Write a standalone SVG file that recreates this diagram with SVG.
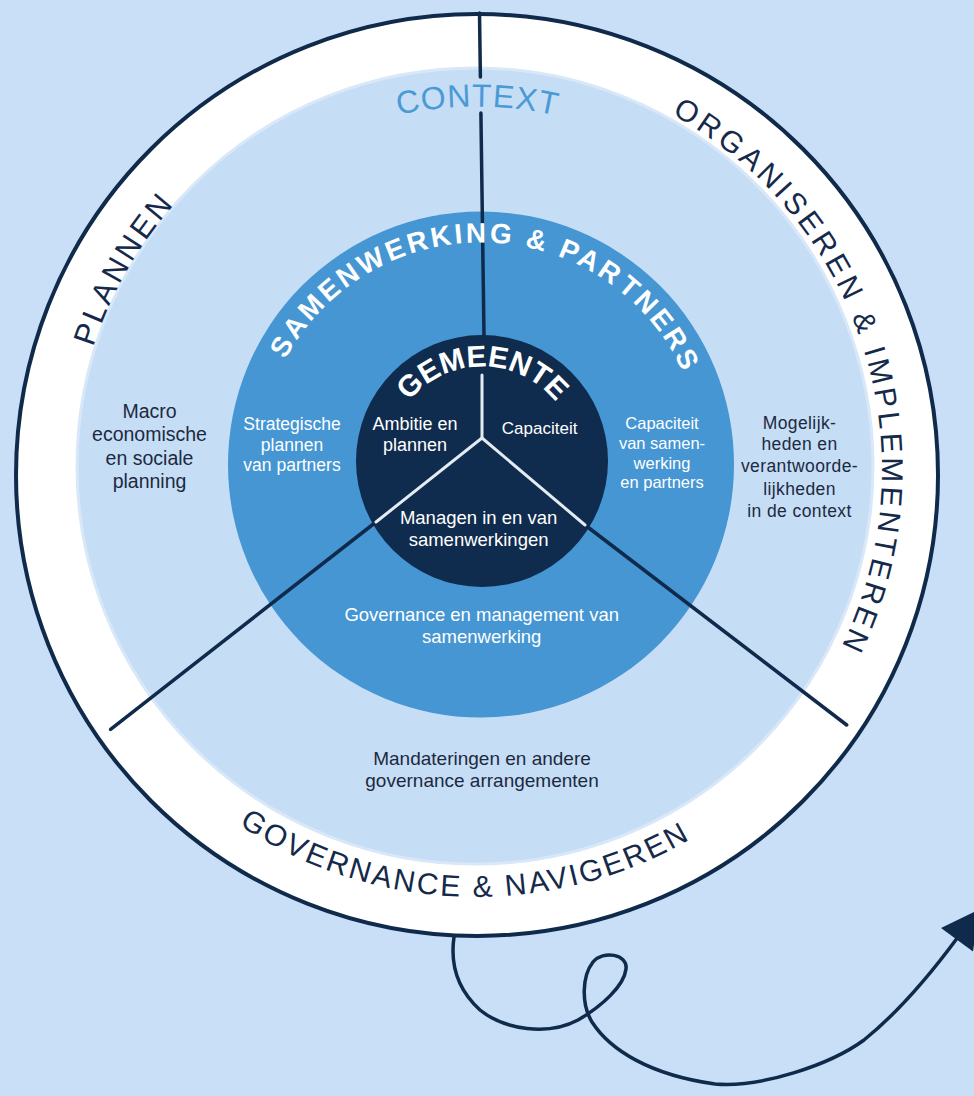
<svg xmlns="http://www.w3.org/2000/svg" width="974" height="1096" viewBox="0 0 974 1096">
  <style>
    .hand { font-family: "Liberation Sans", "DejaVu Sans", sans-serif; }
    .hdark { fill: #15294a; font-size: 31px; }
    .horg { fill: #15294a; font-size: 30px; letter-spacing: 3.8px; }
    .hsam { fill: #ffffff; font-weight: bold; font-size: 28px; letter-spacing: 3px; }
    .hwhite { fill: #ffffff; font-weight: bold; }
    .body { font-family: "Liberation Sans", Arial, sans-serif; text-anchor: middle; }
    .dk { fill: #1c2a40; }
    .wt { fill: #ffffff; }
    .navy { stroke: #0f2a4b; fill: none; stroke-linecap: round; }
    .wline { stroke: #e4ebf3; stroke-width: 3; fill: none; stroke-linecap: round; }
  </style>
  <defs>
    <path id="arcPlannen" d="M128.9 672.8 A402 402 0 0 1 473.9 68"/>
    <path id="arcOrg" d="M423 67.5 A406 406 0 0 1 663.5 830.1"/>
    <path id="arcGov" d="M53.5 531.7 A427 427 0 0 0 894.1 556.6"/>
    <path id="arcContext" d="M135 344.2 A363.5 363.5 0 0 1 818.1 347.2"/>
    <path id="arcSam" d="M263.8 418.3 A222 222 0 0 1 700.8 433.6"/>
    <path id="arcGem" d="M389.1 443.9 A94.5 94.5 0 0 1 575.2 445.2"/>
  </defs>

  <rect x="0" y="0" width="974" height="1096" fill="#c8dff7"/>

  <g id="outer-ring">
    <circle cx="477" cy="475" r="461" fill="#ffffff" stroke="#0f2a4b" stroke-width="4"/>
  </g>

  <g id="context">
    <circle cx="475" cy="466" r="398" fill="#c6ddf6" stroke="#d9e8f8" stroke-width="3"/>
  </g>

  <g id="samenwerking">
    <circle cx="481" cy="464.5" r="253" fill="#4596d3"/>
  </g>

  <g id="gemeente">
    <circle cx="482" cy="461" r="126" fill="#0f2b4d"/>
  </g>

  <g id="connectors">
    <line class="navy" stroke-width="3.5" x1="479.5" y1="13" x2="480.4" y2="77"/>
    <line class="navy" stroke-width="3.5" x1="480.9" y1="113" x2="484" y2="336"/>
    <line class="navy" stroke-width="3.5" x1="376" y1="522" x2="110.6" y2="729.4"/>
    <line class="navy" stroke-width="3.5" x1="585" y1="525" x2="846.7" y2="725"/>
    <polyline class="wline" points="482,375 482,438 376,522"/>
    <line class="wline" x1="482" y1="438" x2="585" y2="525"/>
    <path class="navy" stroke-width="3.5" d="M454 937 C450 965, 458 990, 480 1010 C505 1030, 548 1036, 578 1020 C602 1006, 624 986, 626 969 C628 954, 603 950, 593 962 C582 976, 581 1004, 592 1022 C610 1050, 650 1075, 715 1084 C760 1088, 830 1065, 864 1040 C895 1015, 930 975, 958 937"/>
    <polygon points="941,928 979,909.6 973,951.6" fill="#0f2a4b"/>
  </g>

  <g id="ring-labels">
    <text class="hand hdark" letter-spacing="3"><textPath href="#arcPlannen" startOffset="50%" text-anchor="middle">PLANNEN</textPath></text>
    <text class="hand horg"><textPath href="#arcOrg" startOffset="257.2">ORGANI</textPath></text>
    <text class="hand horg"><textPath href="#arcOrg" startOffset="398.35">SEREN &amp;</textPath></text>
    <text class="hand horg"><textPath href="#arcOrg" startOffset="568.8">IMPLEMEN</textPath></text>
    <text class="hand horg"><textPath href="#arcOrg" startOffset="755.9">TEREN</textPath></text>
    <text class="hand" fill="#15294a" font-size="30" letter-spacing="2.4"><textPath href="#arcGov" startOffset="50%" text-anchor="middle">GOVERNANCE &amp; NAVIGEREN</textPath></text>
    <text class="hand" fill="#4a9ad6" font-size="32" letter-spacing="1"><textPath href="#arcContext" startOffset="50%" text-anchor="middle">CONTEXT</textPath></text>
    <text class="hand hsam"><textPath href="#arcSam" startOffset="62.7">SAMEN</textPath></text>
    <text class="hand hsam"><textPath href="#arcSam" startOffset="178.8">WERKING &amp; PAR</textPath></text>
    <text class="hand hsam"><textPath href="#arcSam" startOffset="448.1">TNERS</textPath></text>
    <text class="hand hwhite" font-size="30"><textPath href="#arcGem" startOffset="50%" text-anchor="middle">GEMEENTE</textPath></text>
  </g>

  <g id="text-macro" class="body dk" font-size="19.5">
    <text x="149.5" y="418">Macro</text>
    <text x="149.5" y="441">economische</text>
    <text x="149.5" y="465">en sociale</text>
    <text x="149.5" y="488">planning</text>
  </g>
  <g id="text-strategische" class="body wt" font-size="17.5">
    <text x="292" y="430">Strategische</text>
    <text x="292" y="451">plannen</text>
    <text x="292" y="471">van partners</text>
  </g>
  <g id="text-ambitie" class="body wt" font-size="18">
    <text x="415" y="430">Ambitie en</text>
    <text x="415" y="451">plannen</text>
  </g>
  <g id="text-capaciteit" class="body wt" font-size="17">
    <text x="539.6" y="434">Capaciteit</text>
  </g>
  <g id="text-capaciteit-samenwerking" class="body wt" font-size="16.5">
    <text x="662" y="429">Capaciteit</text>
    <text x="662" y="449">van samen-</text>
    <text x="662" y="468.5">werking</text>
    <text x="662" y="487.5">en partners</text>
  </g>
  <g id="text-mogelijkheden" class="body dk" font-size="17.5" letter-spacing="0.4">
    <text x="799.5" y="428.5">Mogelijk-</text>
    <text x="799.5" y="450">heden en</text>
    <text x="799.5" y="472">verantwoorde-</text>
    <text x="799.5" y="495">lijkheden</text>
    <text x="799.5" y="517">in de context</text>
  </g>
  <g id="text-managen" class="body wt" font-size="18.5">
    <text x="478.6" y="524">Managen in en van</text>
    <text x="478.6" y="546">samenwerkingen</text>
  </g>
  <g id="text-governance" class="body wt" font-size="18.5">
    <text x="481.7" y="620.7">Governance en management van</text>
    <text x="481.7" y="642.7">samenwerking</text>
  </g>
  <g id="text-mandateringen" class="body dk" font-size="19">
    <text x="482" y="765">Mandateringen en andere</text>
    <text x="482" y="786.5">governance arrangementen</text>
  </g>
</svg>
